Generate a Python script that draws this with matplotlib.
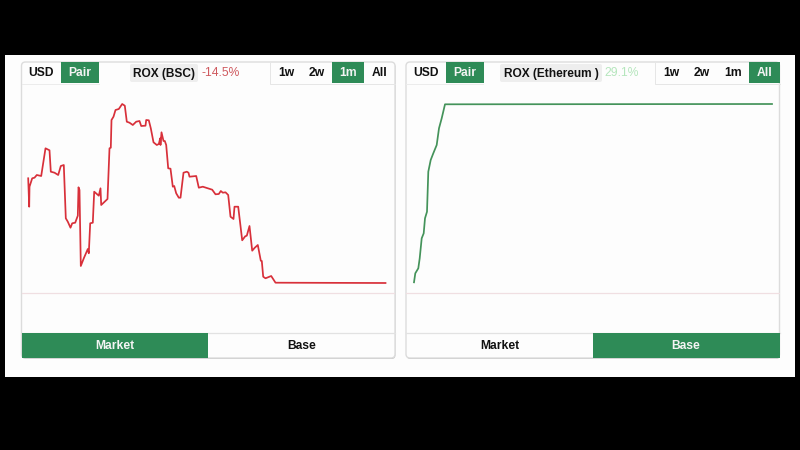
"""Two ROX price cards, BSC and Ethereum, on a black video frame."""

import matplotlib

matplotlib.use("Agg")
import matplotlib.pyplot as plt
from matplotlib.patches import FancyBboxPatch, Rectangle

GREEN = "#2e8b57"
RED_LINE = "#d8303a"
GREEN_LINE = "#44935a"
BORDER = "#dcdcdc"

RANGES = ["1w", "2w", "1m", "All"]
MODES = ["Market", "Base"]

BSC_TITLE = "ROX (BSC)"
BSC_CHANGE = "-14.5%"
BSC_T = [
    6.7, 7.7, 8, 10.7, 13, 15.3, 19.7, 24, 28, 29.3, 33, 36.7, 39.3, 42.3, 44.3,
    46.3, 49, 50.7, 53.7, 56.3, 57, 58, 59.3, 62.3, 66.3, 67.3, 68.7, 71.3, 72.7,
    77.3, 79, 79.7, 86, 88, 89.3, 90, 92, 94, 97.3, 100.7, 103.3, 105.3, 108,
    111.3, 114.7, 118, 119.7, 124, 124.7, 127.3, 129.3, 132, 135.3, 137.3, 138.7,
    139, 140, 142, 143.3, 144.7, 146.7, 149, 151.3, 152.7, 154.7, 157.3, 159, 162,
    165.3, 167, 168, 174.7, 177.3, 181.3, 190.7, 194, 197.3, 199.3, 201.3, 204,
    206.7, 209, 212, 213, 216.7, 220.7, 223.7, 225.3, 228, 230.7, 233.3, 236.3,
    239.3, 240.3, 241.7, 244, 249.7, 254, 364,
]
BSC_V = [
    114.7, 86.3, 106.3, 114.7, 115.3, 118, 117, 144.7, 142.7, 121.3, 120.3, 118,
    127, 128, 74.7, 71.3, 65.3, 69.7, 70.3, 77.3, 105.7, 103, 27, 34.7, 44, 39.7,
    69.7, 70.3, 101.3, 97.3, 104.7, 88, 94, 144.7, 145.3, 173, 176.3, 183, 184,
    189, 187.3, 171.3, 170.3, 168, 171.3, 172, 167, 167.3, 173, 172.7, 164.7,
    150.7, 148, 149, 154.7, 148, 160.7, 152, 152, 148, 124.7, 124.3, 106.3, 107,
    99.7, 95.3, 95.3, 120.3, 121.3, 120.3, 116.3, 117, 105.3, 106.3, 103.3, 98.7,
    99, 102, 100.3, 100.7, 98, 76.3, 74, 86.3, 86.3, 52.7, 56.7, 57.3, 67, 42.3,
    45.3, 48, 32.3, 32, 16.3, 14.7, 17, 10.3, 10,
]

ETH_TITLE = "ROX (Ethereum )"
ETH_CHANGE = "29.1%"
ETH_T = [8, 9.3, 12.3, 13.7, 15.7, 17.7, 19, 21, 22.3, 24.7, 27.3, 30.7, 33, 35.7, 39, 366]
ETH_V = [10.7, 19.7, 24.7, 34.7, 54.7, 59.7, 74.7, 81.3, 121.3, 133, 139.7, 148, 164.7,
         174.7, 188.7, 189]

fig = plt.figure(figsize=(8, 4.5), dpi=100, facecolor="black")
plt.rcParams["font.family"] = ["Liberation Sans", "DejaVu Sans"]

# page furniture is laid out in screen pixels
page = fig.add_axes([0, 0, 1, 1])
page.set_xlim(0, 800)
page.set_ylim(450, 0)
page.axis("off")
page.add_patch(Rectangle((5, 55), 790, 322, fc="#fdfdfd", ec="none"))


def label(x, y, text, color="#111111", size=8.7, weight="bold"):
    page.text(x, y, text, color=color, fontsize=size, fontweight=weight,
              ha="center", va="center", zorder=6)


def button(x0, x1, y0, y1, text, active):
    if active:
        page.add_patch(Rectangle((x0, y0), x1 - x0, y1 - y0, fc=GREEN, ec="none", zorder=4))
    label((x0 + x1) / 2, (y0 + y1) / 2 + 0.5, text, "#f4f4f4" if active else "#111111")


def card(x0, x1, title, pill, title_x, change, change_x, change_color,
         range_x, active_range, active_mode, t, v, line_color):
    # shadow, then the body of the card
    page.add_patch(FancyBboxPatch((x0 + 0.5, 63), x1 - x0, 296, boxstyle="round,pad=0,rounding_size=4",
                                  fc="#c4c4c4", ec="none", zorder=1))
    page.add_patch(FancyBboxPatch((x0, 62), x1 - x0, 296, boxstyle="round,pad=0,rounding_size=4",
                                  fc="#fdfdfd", ec=BORDER, lw=1, zorder=2))
    page.plot([x0, x1], [333, 333], color="#e2e2e2", lw=0.9, zorder=3)

    button(x0, x0 + 39.5, 62, 83, "USD", False)
    button(x0 + 39.5, x0 + 77.5, 62, 83, "Pair", True)
    page.plot([x0, x0 + 77], [83.5, 83.5], color="#ececec", lw=0.7, zorder=3)

    page.add_patch(FancyBboxPatch((pill[0], 64), pill[1] - pill[0], 18, boxstyle="round,pad=0,rounding_size=2",
                                  fc="#eeeeee", ec="none", zorder=3))
    label(title_x, 73.5, title, size=8.6)
    label(change_x, 73.5, change, change_color, weight="normal")

    # range group: left edge and underline are very faint
    page.plot([range_x[0], range_x[0], x1], [62, 83.5, 83.5], color="#e6e6e6", lw=0.7, zorder=3)
    for i, name in enumerate(RANGES):
        button(range_x[i], range_x[i + 1], 62, 83, name, name == active_range)

    mid = (x0 + x1) / 2
    button(x0, mid, 333, 358, MODES[0], active_mode == MODES[0])
    button(mid, x1, 333, 358, MODES[1], active_mode == MODES[1])

    # plot area has its own data scale, zero line at pixel row 293
    ax = fig.add_axes([x0 / 800, 1 - 333 / 450, (x1 - x0) / 800, 249 / 450], zorder=5)
    ax.patch.set_alpha(0)
    ax.set_xlim(0, x1 - x0)
    ax.set_ylim(-40, 209)
    ax.axis("off")
    ax.axhline(0, color="#f0dfe2", lw=0.9)
    ax.plot(t, v, color=line_color, lw=1.25, solid_joinstyle="round")


card(21.5, 395, BSC_TITLE, (130, 198), 164, BSC_CHANGE, 221, "#cf5a5f",
     [270, 302, 332, 364, 395], "1m", "Market", BSC_T, BSC_V, RED_LINE)
card(406, 779.5, ETH_TITLE, (500, 602), 551, ETH_CHANGE, 622, "#b5e6bd",
     [655, 687, 717, 749, 779.5], "All", "Base", ETH_T, ETH_V, GREEN_LINE)

fig.savefig("out.png", dpi=100, facecolor="black")
